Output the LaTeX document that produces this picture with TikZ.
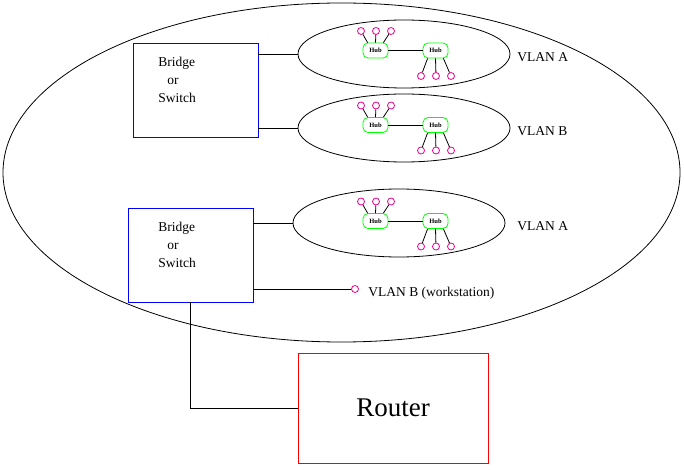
\documentclass[tikz,border=0pt]{standalone}
\usepackage{fontspec}
\setmainfont{Liberation Serif}
\usetikzlibrary{shapes.geometric,calc}

\begin{document}
\begin{tikzpicture}[x=1pt,y=-1pt,font=\fontsize{13.5}{18}\selectfont,line width=0.8pt]
\tikzset{site/.style={draw,ellipse,minimum width=677pt,minimum height=339pt,inner sep=0pt}, vlan/.style={draw,ellipse,minimum width=212pt,minimum height=68pt,inner sep=0pt}, bridge/.style={draw=blue,minimum width=125pt,minimum height=94pt,inner sep=0pt}, hub/.style={draw=green,rounded corners=5pt,minimum width=25pt,minimum height=15pt,inner sep=0pt,font=\fontsize{6.5}{6.5}\selectfont\bfseries}, pc/.style={draw=magenta,circle,minimum size=7pt,inner sep=0pt}, txt/.style={anchor=west,inner sep=0pt}}
\useasboundingbox (0,0) rectangle (684,470);
\node[site] (lan) at (341.5,172.5) {};
\node[bridge] (brA) at (195.5,90) {};
\node[bridge] (brB) at (190.5,255) {};
\node[anchor=north west,align=left,inner sep=0pt] (brAtxt) at (158,57) {Bridge\\\hspace{9pt}or\\Switch};
\node[anchor=north west,align=left,inner sep=0pt] (brBtxt) at (158,222) {Bridge\\\hspace{9pt}or\\Switch};
\node[draw=red,minimum width=190pt,minimum height=110pt,font=\fontsize{27}{27}\selectfont] (router) at (393,408) {Router};
% the three vlan groups
\foreach \vl/\x/\y/\hy/\lab in {vA/404/54/50.5/VLAN A, vB/404/128/125/VLAN B, vC/399/223/221/VLAN A}{
  \node[vlan] (\vl) at (\x,\y) {};
  \node[txt] (\vl lab) at (517,\y+3) {\lab};
  \node[hub] (\vl h1) at (375.5,\hy) {Hub};
  \node[hub] (\vl h2) at (435.5,\hy) {Hub};
  \draw (\vl h1) -- (\vl h2);
  \foreach \i/\dx/\a in {1/-14.5/135,2/0.5/90,3/15.5/45}{
    \node[pc] (\vl t\i) at (375.5+\dx,\hy-19.5) {};
    \node[pc] (\vl b\i) at (435.5+\dx,\hy+25.5) {};
    \draw (\vl t\i) -- (\vl h1.\a);
    \draw (\vl b\i) -- (\vl h2.-\a);
  }
}
\draw (vA.west) -- (vA.west -| brA.east);
\draw (vB.west) -- (vB.west -| brA.east);
\draw (vC.west) -- (vC.west -| brB.east);
\node[pc] (ws) at (355,289) {};
\node[txt] (wslab) at (368,293) {VLAN B (workstation)};
\draw (ws) -- (ws -| brB.east);
\draw (brB.south) |- (router.west);
\end{tikzpicture}
\end{document}
